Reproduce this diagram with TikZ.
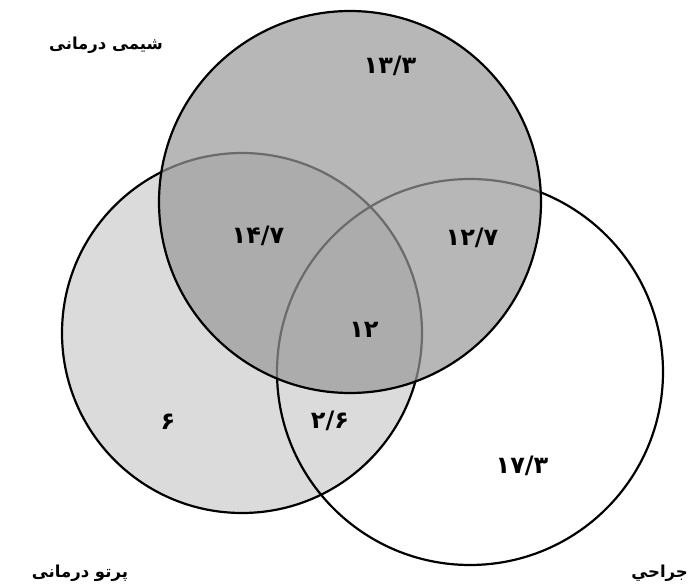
\documentclass[tikz,border=0pt]{standalone}
\usepackage{fontspec}
\newfontfamily\farsifont[Script=Arabic]{DejaVu Sans}
\TeXXeTstate=1

\begin{document}
\begin{tikzpicture}[x=1pt, y=-1pt,
    vset/.style={circle, inner sep=0pt, line width=2.2pt},
    setname/.style={font=\farsifont\bfseries\fontsize{16.5}{18}\selectfont},
    share/.style={font=\farsifont\bfseries\fontsize{24}{26}\selectfont}
]
\useasboundingbox (0,0) rectangle (689,585);

% sets (left, right, top)
\node[vset, draw, fill=black!14, minimum size=360pt] (radio)   at (242,333) {};
\node[vset, draw, minimum size=386pt]                 (surgery) at (470,372) {};
\node[vset, fill=black!40, fill opacity=0.7, minimum size=382pt] (chemo) at (350,202) {};
\node[vset, draw, minimum size=382pt] (chemoline) at (chemo.center) {};

% set names
\node[setname] (nchemo)   at (106,45)  {\beginR شیمی درمانی\endR};
\node[setname] (nradio)   at (80,573)  {\beginR پرتو درمانی\endR};
\node[setname, anchor=east, inner sep=1pt] (nsurgery) at (689,573) {\beginR جراحي\endR};

% shares
\node[share] (only-chemo)   at (390,66)  {۱۳/۳};
\node[share] (chemo-radio)  at (258,236) {۱۴/۷};
\node[share] (chemo-surg)   at (472,238) {۱۲/۷};
\node[share] (all-three)    at (364,330) {۱۲};
\node[share] (only-radio)   at (168,422) {۶};
\node[share] (radio-surg)   at (330,421) {۲/۶};
\node[share] (only-surg)    at (522,466) {۱۷/۳};
\end{tikzpicture}
\end{document}
